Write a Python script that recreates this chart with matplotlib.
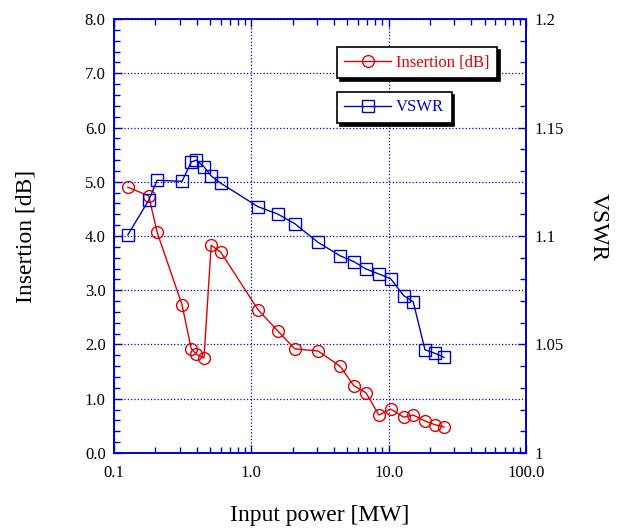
import matplotlib.pyplot as plt
import matplotlib.ticker as mticker
import numpy as np

plt.rcParams['font.family'] = ['Liberation Serif', 'DejaVu Serif']

# input power [MW]
power = [0.126, 0.179, 0.206, 0.313, 0.365, 0.398, 0.452, 0.51, 0.60,
         1.12, 1.56, 2.07, 3.06, 4.43, 5.58, 6.84, 8.49, 10.35, 12.9,
         15.1, 18.4, 21.8, 25.3]
insertion = [4.90, 4.74, 4.07, 2.73, 1.92, 1.82, 1.75, 3.83, 3.70,
             2.64, 2.25, 1.92, 1.88, 1.60, 1.24, 1.11, 0.70, 0.81, 0.66,
             0.70, 0.59, 0.52, 0.48]
vswr = [1.1005, 1.1165, 1.1257, 1.1252, 1.1341, 1.135, 1.1319, 1.1277, 1.1243,
        1.1135, 1.1101, 1.1057, 1.0971, 1.0909, 1.0882, 1.0848, 1.0825, 1.0803,
        1.0725, 1.0697, 1.0476, 1.0459, 1.0441]

blue = '#0000cc'
red = '#dd0000'

fig = plt.figure(figsize=(6.18, 5.29), dpi=100)
ax = fig.add_axes([0.1845, 0.1437, 0.6665, 0.8203])
ax2 = ax.twinx()

l1, = ax.plot(power, insertion, color=red, lw=1.0, marker='o', ms=8.5,
              mfc='none', mec=red, mew=1.0, label='Insertion [dB]')
l2, = ax2.plot(power, vswr, color=blue, lw=1.0, marker='s', ms=8.5,
               mfc='none', mec=blue, mew=1.0, label='VSWR')

ax.set_xscale('log')
ax.set_xlim(0.1, 100)
ax.set_ylim(0, 8)
ax2.set_ylim(1, 1.2)

ax.set_xticks([0.1, 1, 10, 100])
ax.set_xticklabels(['0.1', '1.0', '10.0', '100.0'])
ax.xaxis.set_minor_locator(mticker.LogLocator(base=10, subs=np.arange(2, 10)))
ax.xaxis.set_minor_formatter(mticker.NullFormatter())
ax.yaxis.set_major_locator(mticker.MultipleLocator(1))
ax.yaxis.set_major_formatter(mticker.FormatStrFormatter('%.1f'))
ax.yaxis.set_minor_locator(mticker.MultipleLocator(0.2))

ax2.set_yticks([1, 1.05, 1.1, 1.15, 1.2])
ax2.set_yticklabels(['1', '1.05', '1.1', '1.15', '1.2'])
ax2.yaxis.set_minor_locator(mticker.MultipleLocator(0.01))

for a in (ax, ax2):
    for s in a.spines.values():
        s.set_color(blue)
        s.set_linewidth(1.2)

ax.tick_params(which='both', direction='in', color=blue, top=True,
               labelsize=12, pad=6)
ax.tick_params(axis='x', which='major', pad=9)
ax.tick_params(which='major', length=6, width=1)
ax.tick_params(which='minor', length=4, width=1)
ax.tick_params(axis='y', which='both', right=False)
ax2.tick_params(which='both', direction='in', color=blue, labelsize=12, pad=6)
ax2.tick_params(which='major', length=6, width=1)
ax2.tick_params(which='minor', length=4, width=1)

ax.grid(True, which='major', color=blue, linestyle=':', linewidth=0.9)

ax.set_xlabel('Input power [MW]', fontsize=17)
ax.xaxis.set_label_coords(0.5, -0.12)
ax.set_ylabel('Insertion [dB]', fontsize=17)
ax.yaxis.set_label_coords(-0.188, 0.5)
ax2.set_ylabel('VSWR', fontsize=17, rotation=270, va='center')
ax2.yaxis.set_label_coords(1.175, 0.52)

shadow = {'color': 'black', 'facecolor': 'black', 'alpha': 1.0,
          'ox': 2, 'oy': -2}
leg1 = ax2.legend(handles=[l1], loc='upper left', bbox_to_anchor=(0.541, 0.935),
                  borderaxespad=0, fancybox=False, shadow=shadow, framealpha=1,
                  edgecolor='black', fontsize=12, labelcolor='linecolor',
                  handlelength=2.8, handletextpad=0.3, borderpad=0.45)
leg1.get_frame().set_linewidth(1.2)
ax2.add_artist(leg1)
leg2 = ax2.legend(handles=[l2], loc='upper left', bbox_to_anchor=(0.541, 0.832),
                  borderaxespad=0, fancybox=False, shadow=shadow, framealpha=1,
                  edgecolor='black', fontsize=12, labelcolor='linecolor',
                  handlelength=2.8, handletextpad=0.3, borderpad=0.45)
leg2.get_frame().set_linewidth(1.2)

fig.savefig('out.png', dpi=100)
